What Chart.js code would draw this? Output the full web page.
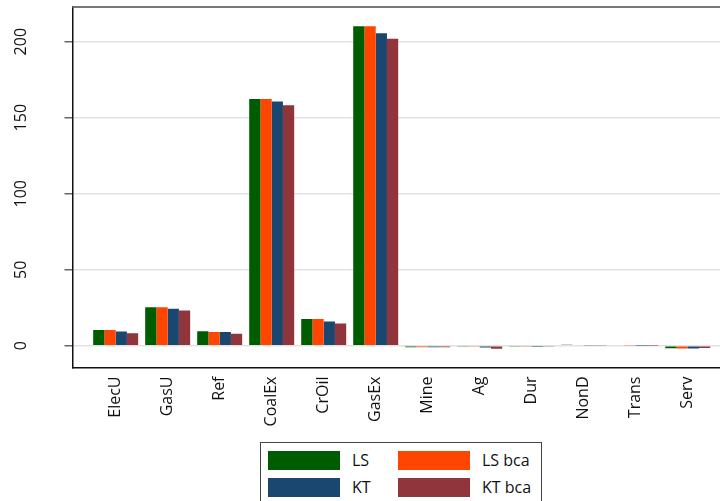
<!DOCTYPE html>
<html>
<head>
<meta charset="utf-8">
<script src="https://cdn.jsdelivr.net/npm/chart.js@4"></script>
<style>
    html, body { margin: 0; padding: 0; background: #fff; }
    #wrap { position: relative; width: 720px; height: 501px; overflow: hidden; }
    #legend {
        position: absolute; left: 260px; top: 442px; width: 282px; height: 70px;
        border: 1px solid #444; box-sizing: border-box; background: #fff;
        font-family: 'Open Sans', sans-serif; font-size: 16px; color: #111;
    }
    .item { position: absolute; height: 20px; line-height: 20px; }
    .swatch { position: absolute; left: 0; top: 0; width: 72px; height: 19px; }
    .item span { position: absolute; left: 84px; top: -1px; white-space: nowrap; }
</style>
</head>
<body>
<div id="wrap">
    <canvas id="chart" width="720" height="501"></canvas>
    <div id="legend"></div>
</div>
<script>
// categorias e séries
const categories = ['ElecU', 'GasU', 'Ref', 'CoalEx', 'CrOil', 'GasEx', 'Mine', 'Ag', 'Dur', 'NonD', 'Trans', 'Serv'];
const seriesNames = ['LS', 'LS bca', 'KT', 'KT bca'];
const seriesColors = ['#005c00', '#ff4500', '#1a476f', '#90353b'];
const lsValues    = [10.3, 25.4, 9.6, 162.3, 17.6, 210.2, -0.9, -0.6, -0.7, 0.6, 0.5, -1.6];
const lsBcaValues = [10.3, 25.4, 9.0, 162.3, 17.6, 210.2, -0.9, -0.7, -0.7, 0.5, 0.4, -1.8];
const ktValues    = [9.4, 24.3, 9.0, 160.6, 16.0, 205.6, -1.0, -1.2, -0.8, 0.4, 0.2, -1.8];
const ktBcaValues = [8.3, 23.2, 7.9, 158.2, 14.6, 201.9, -1.0, -2.0, -0.6, 0.3, 0.2, -1.4];
const yTicks = [0, 50, 100, 150, 200];

const allSeries = [lsValues, lsBcaValues, ktValues, ktBcaValues];

const datasets = allSeries.map((vals, s) => ({
    label: seriesNames[s],
    data: vals.map((v, i) => ({ x: i, y: v })),
    backgroundColor: seriesColors[s],
    borderWidth: 0,
    categoryPercentage: 0.865,
    barPercentage: 1
}));

// linha superior do quadro
const topFrame = {
    id: 'topFrame',
    afterDraw(chart) {
        const { ctx, chartArea } = chart;
        ctx.save();
        ctx.strokeStyle = '#777';
        ctx.lineWidth = 2;
        ctx.beginPath();
        ctx.moveTo(chartArea.left, chartArea.top);
        ctx.lineTo(chartArea.right, chartArea.top);
        ctx.stroke();
        ctx.restore();
    }
};

new Chart(document.getElementById('chart').getContext('2d'), {
    type: 'bar',
    data: { datasets },
    options: {
        responsive: false,
        animation: false,
        layout: { padding: { top: 7, right: 0, left: 0, bottom: 0 } },
        plugins: { legend: { display: false }, tooltip: { enabled: false } },
        scales: {
            x: {
                type: 'linear',
                min: -0.83,
                max: 11.62,
                offset: false,
                afterBuildTicks: (axis) => { axis.ticks = categories.map((c, i) => ({ value: i })); },
                afterFit: (axis) => { axis.height = 133.5; axis.paddingLeft = 0; axis.paddingRight = 0; },
                grid: { display: false, drawTicks: false },
                border: { display: true, color: '#111', width: 1.5 },
                ticks: {
                    autoSkip: false,
                    minRotation: 90,
                    maxRotation: 90,
                    padding: 9,
                    color: '#111',
                    font: { family: 'Open Sans', size: 16 },
                    callback: (v) => categories[v]
                }
            },
            y: {
                min: -14.3,
                max: 222.8,
                afterBuildTicks: (axis) => { axis.ticks = yTicks.map(v => ({ value: v })); },
                afterFit: (axis) => { axis.width = 72.5; axis.paddingTop = 0; axis.paddingBottom = 0; },
                grid: { color: '#e2e2e2', lineWidth: 1.5, tickColor: '#666', tickLength: 8 },
                border: { display: true, color: '#111', width: 1.5 },
                ticks: {
                    minRotation: 90,
                    maxRotation: 90,
                    crossAlign: 'center',
                    padding: 29,
                    color: '#111',
                    font: { family: 'Open Sans', size: 16 }
                }
            }
        }
    },
    plugins: [topFrame]
});

// legenda em duas colunas
const legendEl = document.getElementById('legend');
const legendPos = [[7, 8], [137, 8], [7, 35], [137, 35]];
seriesNames.forEach((name, s) => {
    const item = document.createElement('div');
    item.className = 'item';
    item.style.left = legendPos[s][0] + 'px';
    item.style.top = legendPos[s][1] + 'px';
    item.innerHTML = `<div class="swatch" style="background:${seriesColors[s]}"></div><span>${name}</span>`;
    legendEl.appendChild(item);
});
</script>
</body>
</html>
